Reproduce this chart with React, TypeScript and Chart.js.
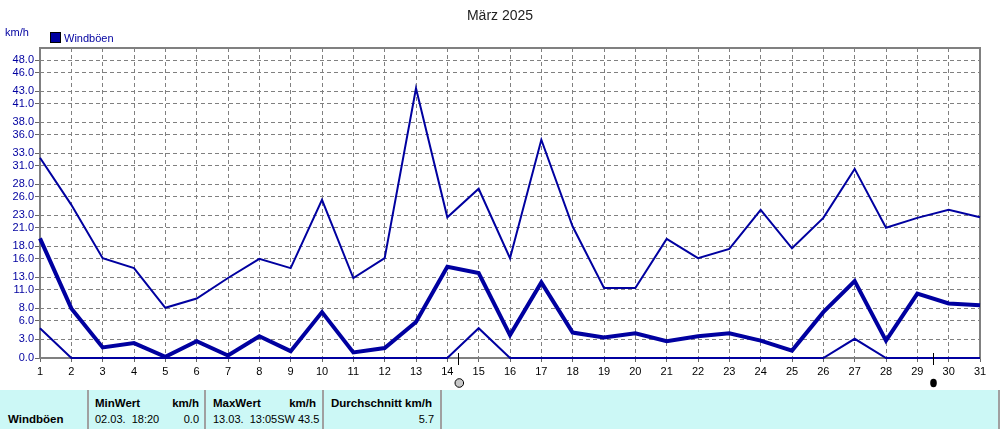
import React, { useEffect, useRef } from "react";
import { Chart, registerables } from "chart.js";

Chart.register(...registerables);

const days = [1, 2, 3, 4, 5, 6, 7, 8, 9, 10, 11, 12, 13, 14, 15, 16, 17, 18, 19, 20, 21, 22, 23, 24, 25, 26, 27, 28, 29, 30, 31];
const gustMax = [32.3, 24.7, 16.1, 14.5, 8.1, 9.6, 12.9, 16.0, 14.5, 25.5, 12.9, 16.1, 43.5, 22.7, 27.3, 16.1, 35.2, 21.2, 11.3, 11.3, 19.2, 16.1, 17.6, 23.9, 17.7, 22.6, 30.5, 21.0, 22.6, 23.9, 22.7];
const gustAvg = [19.3, 8.0, 1.7, 2.4, 0.2, 2.7, 0.4, 3.5, 1.1, 7.4, 0.9, 1.6, 5.8, 14.7, 13.7, 3.7, 12.2, 4.1, 3.3, 4.0, 2.7, 3.5, 4.0, 2.8, 1.2, 7.4, 12.4, 2.8, 10.4, 8.8, 8.5];
const gustMin = [4.8, 0, 0, 0, 0, 0, 0, 0, 0, 0, 0, 0, 0, 0, 4.8, 0, 0, 0, 0, 0, 0, 0, 0, 0, 0, 0, 3.1, 0, 0, 0, 0];
const yTicks = [0, 3, 6, 8, 11, 13, 16, 18, 21, 23, 26, 28, 31, 33, 36, 38, 41, 43, 46, 48];
const fullMoonDays = [14.35];
const newMoonDays = [29.5];

const title = "März 2025";
const unit = "km/h";
const seriesName = "Windböen";

const BLUE = "#0000a0";
const FONT = "'Liberation Sans', Arial, sans-serif";

const toPts = (vals: number[]) => vals.map((v, i) => ({ x: days[i], y: v }));

const decorPlugin = {
  id: "decor",
  beforeDatasetsDraw(chart: any) {
    const { ctx, chartArea } = chart;
    ctx.save();
    ctx.strokeStyle = "#808080";
    ctx.lineWidth = 2;
    ctx.strokeRect(chartArea.left, chartArea.top, chartArea.right - chartArea.left, chartArea.bottom - chartArea.top);
    ctx.restore();
  },
  afterDraw(chart: any) {
    const { ctx, chartArea, scales } = chart;
    ctx.save();
    // title
    ctx.fillStyle = "#222";
    ctx.font = `14px ${FONT}`;
    ctx.textAlign = "center";
    ctx.textBaseline = "middle";
    ctx.fillText(title, 500, 16);
    // unit
    ctx.fillStyle = BLUE;
    ctx.font = `11px ${FONT}`;
    ctx.textAlign = "left";
    ctx.fillText(unit, 5, 33);
    // legend
    ctx.fillStyle = BLUE;
    ctx.fillRect(50.5, 32.5, 10, 10);
    ctx.strokeStyle = "#000";
    ctx.lineWidth = 1;
    ctx.strokeRect(50.5, 32.5, 10, 10);
    ctx.fillStyle = BLUE;
    ctx.fillText(seriesName, 64, 38.5);
    // moons
    const xs = scales.x;
    const base = chartArea.bottom;
    const drawTick = (px: number) => {
      ctx.strokeStyle = "#000";
      ctx.lineWidth = 1;
      ctx.beginPath();
      ctx.moveTo(Math.round(px) + 0.5, base - 5);
      ctx.lineTo(Math.round(px) + 0.5, base + 7);
      ctx.stroke();
    };
    fullMoonDays.forEach((d) => {
      const px = xs.getPixelForValue(d);
      drawTick(px);
      ctx.beginPath();
      ctx.arc(px + 1, base + 25, 4.3, 0, Math.PI * 2);
      ctx.fillStyle = "#c8c8c8";
      ctx.fill();
      ctx.strokeStyle = "#000";
      ctx.lineWidth = 1;
      ctx.stroke();
    });
    newMoonDays.forEach((d) => {
      const px = xs.getPixelForValue(d);
      drawTick(px);
      ctx.beginPath();
      ctx.ellipse(px + 0.5, base + 25, 3.3, 4.2, 0, 0, Math.PI * 2);
      ctx.fillStyle = "#000";
      ctx.fill();
    });
    ctx.restore();
  },
};

export default function App() {
  const ref = useRef<HTMLCanvasElement | null>(null);
  useEffect(() => {
    if (!ref.current) return;
    const lineDs = (data: number[], w: number) => ({
      label: seriesName,
      data: toPts(data),
      borderColor: BLUE,
      backgroundColor: BLUE,
      borderWidth: w,
      pointRadius: 0,
      tension: 0,
      fill: false,
      clip: 6,
    });
    const chart = new Chart(ref.current, {
      type: "line",
      data: {
        datasets: [lineDs(gustMax, 2), lineDs(gustAvg, 4), lineDs(gustMin, 2)],
      },
      options: {
        animation: false,
        responsive: false,
        devicePixelRatio: 1,
        layout: { padding: { top: 48, right: 20, left: 0, bottom: 0 } },
        plugins: { legend: { display: false }, title: { display: false }, tooltip: { enabled: false } },
        scales: {
          x: {
            type: "linear",
            min: 1,
            max: 31,
            afterBuildTicks: (s: any) => {
              s.ticks = days.map((d) => ({ value: d }));
            },
            afterFit: (s: any) => {
              s.height = 32;
            },
            ticks: {
              color: "#000",
              font: { family: FONT, size: 11 },
              padding: 3,
              maxRotation: 0,
              autoSkip: false,
              callback: (v: any) => String(v),
            },
            grid: {
              color: "#808080",
              lineWidth: 1,
              tickLength: 4,
              tickColor: "#666",
              tickBorderDash: [],
            },
            border: { display: false, dash: [4, 3] },
          },
          y: {
            type: "linear",
            min: 0,
            max: 50,
            afterBuildTicks: (s: any) => {
              s.ticks = yTicks.map((v) => ({ value: v }));
            },
            afterFit: (s: any) => {
              s.width = 40;
            },
            ticks: {
              color: BLUE,
              font: { family: FONT, size: 11 },
              padding: 1,
              autoSkip: false,
              callback: (v: any) => Number(v).toFixed(1),
            },
            grid: {
              color: "#808080",
              lineWidth: 1,
              tickLength: 5,
              tickColor: "#666",
              tickBorderDash: [],
            },
            border: { display: false, dash: [4, 3] },
          },
        },
      },
      plugins: [decorPlugin],
    });
    return () => chart.destroy();
  }, []);

  const txt: React.CSSProperties = {
    position: "absolute",
    fontFamily: FONT,
    fontSize: 11,
    color: "#000",
    whiteSpace: "pre",
    lineHeight: "14px",
  };
  const bold: React.CSSProperties = { ...txt, fontWeight: "bold", fontSize: 11.5 };
  const sep = (x: number): React.CSSProperties => ({
    position: "absolute",
    left: x,
    top: 0,
    width: 2,
    height: 39,
    background: "#a0a0a0",
  });

  return (
    <div style={{ position: "fixed", left: 0, top: 0, width: 1000, height: 429, background: "#fff", overflow: "hidden" }}>
      <canvas ref={ref} width={1000} height={390} style={{ position: "absolute", left: 0, top: 0, width: 1000, height: 390 }} />
      <div style={{ position: "absolute", left: 0, top: 390, width: 1000, height: 39, background: "#ccf8f6" }}>
        <div style={sep(87)} />
        <div style={sep(204)} />
        <div style={sep(322)} />
        <div style={sep(440)} />
        <div style={sep(998)} />
        <span style={{ ...bold, left: 8, top: 22 }}>{seriesName}</span>
        <span style={{ ...bold, left: 95, top: 6 }}>MinWert</span>
        <span style={{ ...bold, right: 1000 - 199, top: 6 }}>km/h</span>
        <span style={{ ...txt, left: 95, top: 22 }}>02.03.  18:20</span>
        <span style={{ ...txt, right: 1000 - 199, top: 22 }}>0.0</span>
        <span style={{ ...bold, left: 213, top: 6 }}>MaxWert</span>
        <span style={{ ...bold, right: 1000 - 316, top: 6 }}>km/h</span>
        <span style={{ ...txt, left: 213, top: 22 }}>13.03.  13:05SW 43.5</span>
        <span style={{ ...bold, left: 331, top: 6 }}>Durchschnitt km/h</span>
        <span style={{ ...txt, right: 1000 - 434, top: 22 }}>5.7</span>
      </div>
    </div>
  );
}
